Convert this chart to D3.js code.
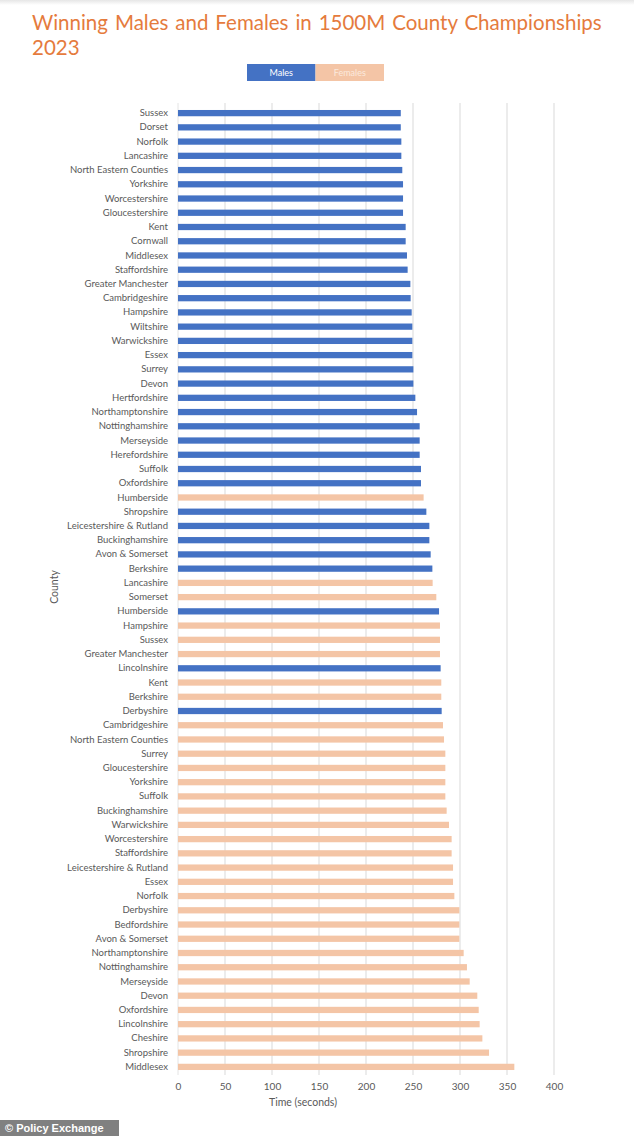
<!DOCTYPE html>
<html>
<head>
<meta charset="utf-8">
<script src="https://cdn.jsdelivr.net/npm/d3@7"></script>
<style>
  html, body { margin: 0; padding: 0; background: #fff; }
  svg { display: block; }
</style>
</head>
<body>
<svg id="chart" width="634" height="1136"></svg>
<script>
const counties = [
  "Sussex","Dorset","Norfolk","Lancashire","North Eastern Counties","Yorkshire","Worcestershire","Gloucestershire",
  "Kent","Cornwall","Middlesex","Staffordshire","Greater Manchester","Cambridgeshire","Hampshire","Wiltshire",
  "Warwickshire","Essex","Surrey","Devon","Hertfordshire","Northamptonshire","Nottinghamshire","Merseyside",
  "Herefordshire","Suffolk","Oxfordshire","Humberside","Shropshire","Leicestershire & Rutland","Buckinghamshire","Avon & Somerset",
  "Berkshire","Lancashire","Somerset","Humberside","Hampshire","Sussex","Greater Manchester","Lincolnshire",
  "Kent","Berkshire","Derbyshire","Cambridgeshire","North Eastern Counties","Surrey","Gloucestershire","Yorkshire",
  "Suffolk","Buckinghamshire","Warwickshire","Worcestershire","Staffordshire","Leicestershire & Rutland","Essex","Norfolk",
  "Derbyshire","Bedfordshire","Avon & Somerset","Northamptonshire","Nottinghamshire","Merseyside","Devon","Oxfordshire",
  "Lincolnshire","Cheshire","Shropshire","Middlesex"
];
const males = [
  237,237,237.6,237.6,238.6,239.4,239.4,239.4,
  242.2,242.2,243.6,244.3,247.2,247.5,248.6,249.3,
  249.3,249.3,250.4,250.4,252.5,254.3,257.1,257.1,
  257.1,258.5,258.5,null,264.2,267.4,267.4,268.8,
  270.6,null,null,277.7,null,null,null,279.4,
  null,null,280.5,null,null,null,null,null,
  null,null,null,null,null,null,null,null,
  null,null,null,null,null,null,null,null,
  null,null,null,null
];
const females = [
  null,null,null,null,null,null,null,null,
  null,null,null,null,null,null,null,null,
  null,null,null,null,null,null,null,null,
  null,null,null,261.3,null,null,null,null,
  null,270.9,274.8,null,278.7,278.7,278.7,null,
  280.1,280.1,null,281.9,283,284.4,284.4,284.4,
  284.4,285.8,288.3,291.1,291.1,292.6,292.6,294,
  299.3,299.3,299.3,303.9,307.4,310.3,318.4,319.9,
  320.9,323.8,330.9,357.8
];
const xTicks = [0,50,100,150,200,250,300,350,400];
const seriesNames = ["Males","Females"];

const colors = { Males: "#4472C4", Females: "#F4C5A6" };
const textGray = "#595959";
const font = "Lato, 'Open Sans', sans-serif";

const svg = d3.select("#chart");

// subtle top shadow
const defs = svg.append("defs");
const grad = defs.append("linearGradient").attr("id","topshade").attr("x1",0).attr("x2",0).attr("y1",0).attr("y2",1);
grad.append("stop").attr("offset","0%").attr("stop-color","#e6e6e6");
grad.append("stop").attr("offset","100%").attr("stop-color","#ffffff");
svg.append("rect").attr("x",0).attr("y",0).attr("width",634).attr("height",5).attr("fill","url(#topshade)");

// Title (justified first line)
const titleColor = "#E57B3D";
const t1 = svg.append("text")
  .attr("x", 32).attr("y", 30)
  .attr("font-family", font).attr("font-size", 20.5)
  .attr("fill", titleColor)
  .text("Winning Males and Females in 1500M County Championships");
const w1 = t1.node().getComputedTextLength();
const spaces = 6;
t1.style("word-spacing", ((600 - 32 - w1) / spaces) + "px");
svg.append("text")
  .attr("x", 32).attr("y", 55)
  .attr("font-family", font).attr("font-size", 20.5)
  .attr("fill", titleColor)
  .text("2023");

// Legend
const legend = svg.append("g");
const legX = d3.scaleBand().domain(seriesNames).range([247, 384]);
legend.selectAll("rect").data(seriesNames).join("rect")
  .attr("x", d => legX(d)).attr("y", 64)
  .attr("width", legX.bandwidth()).attr("height", 17)
  .attr("fill", d => colors[d]);
legend.selectAll("text").data(seriesNames).join("text")
  .attr("x", d => legX(d) + legX.bandwidth()/2).attr("y", 76)
  .attr("text-anchor", "middle")
  .attr("font-family", font).attr("font-size", 9)
  .attr("fill", d => d === "Males" ? "#ffffff" : "#fbe9dd")
  .text(d => d);

// Scales
const x = d3.scaleLinear().domain([0, 400]).range([178, 554]);
const idx = d3.range(counties.length);
const y = d3.scaleBand().domain(idx).range([106, 1074]).paddingInner(0.56).paddingOuter(0.28);

const plotTop = 103, plotBottom = 1075;

// Gridlines
svg.append("g").selectAll("line").data(xTicks).join("line")
  .attr("x1", d => x(d)).attr("x2", d => x(d))
  .attr("y1", plotTop).attr("y2", plotBottom)
  .attr("stroke", d => d === 0 ? "#e4e4e4" : "#d9d9d9").attr("stroke-width", 1);

// Bars
const bars = svg.append("g");
bars.selectAll("rect.m").data(idx.filter(i => males[i] != null)).join("rect")
  .attr("class","m")
  .attr("x", x(0)).attr("y", i => y(i))
  .attr("width", i => x(males[i]) - x(0)).attr("height", y.bandwidth())
  .attr("fill", colors.Males);
bars.selectAll("rect.f").data(idx.filter(i => females[i] != null)).join("rect")
  .attr("class","f")
  .attr("x", x(0)).attr("y", i => y(i))
  .attr("width", i => x(females[i]) - x(0)).attr("height", y.bandwidth())
  .attr("fill", colors.Females);

// Y axis labels
const yAxis = d3.axisLeft(y).tickSize(0).tickPadding(10).tickFormat(i => counties[i]);
const gy = svg.append("g").attr("transform", `translate(${x(0)},0)`).call(yAxis);
gy.select(".domain").remove();
gy.selectAll("text").attr("font-family", font).attr("font-size", 9.5).attr("fill", textGray);

// X axis
const xAxis = d3.axisBottom(x).tickValues(xTicks).tickSize(0).tickPadding(6);
const gx = svg.append("g").attr("transform", `translate(0,${plotBottom + 2})`).call(xAxis);
gx.select(".domain").remove();
gx.selectAll("text").attr("font-family", font).attr("font-size", 10).attr("fill", textGray);

// Axis titles
svg.append("text")
  .attr("x", 303).attr("y", 1106)
  .attr("text-anchor", "middle")
  .attr("font-family", font).attr("font-size", 10.5).attr("fill", textGray)
  .text("Time (seconds)");
svg.append("text")
  .attr("transform", "translate(58,587) rotate(-90)")
  .attr("text-anchor", "middle")
  .attr("font-family", font).attr("font-size", 10.5).attr("fill", textGray)
  .text("County");

// Footer credit
svg.append("rect").attr("x", 0).attr("y", 1120).attr("width", 119).attr("height", 16).attr("fill", "#808080");
svg.append("text")
  .attr("x", 5).attr("y", 1132)
  .attr("font-family", "Liberation Sans, Arial, sans-serif").attr("font-weight", "bold")
  .attr("font-size", 11).attr("fill", "#ffffff")
  .text("© Policy Exchange");
</script>
</body>
</html>
